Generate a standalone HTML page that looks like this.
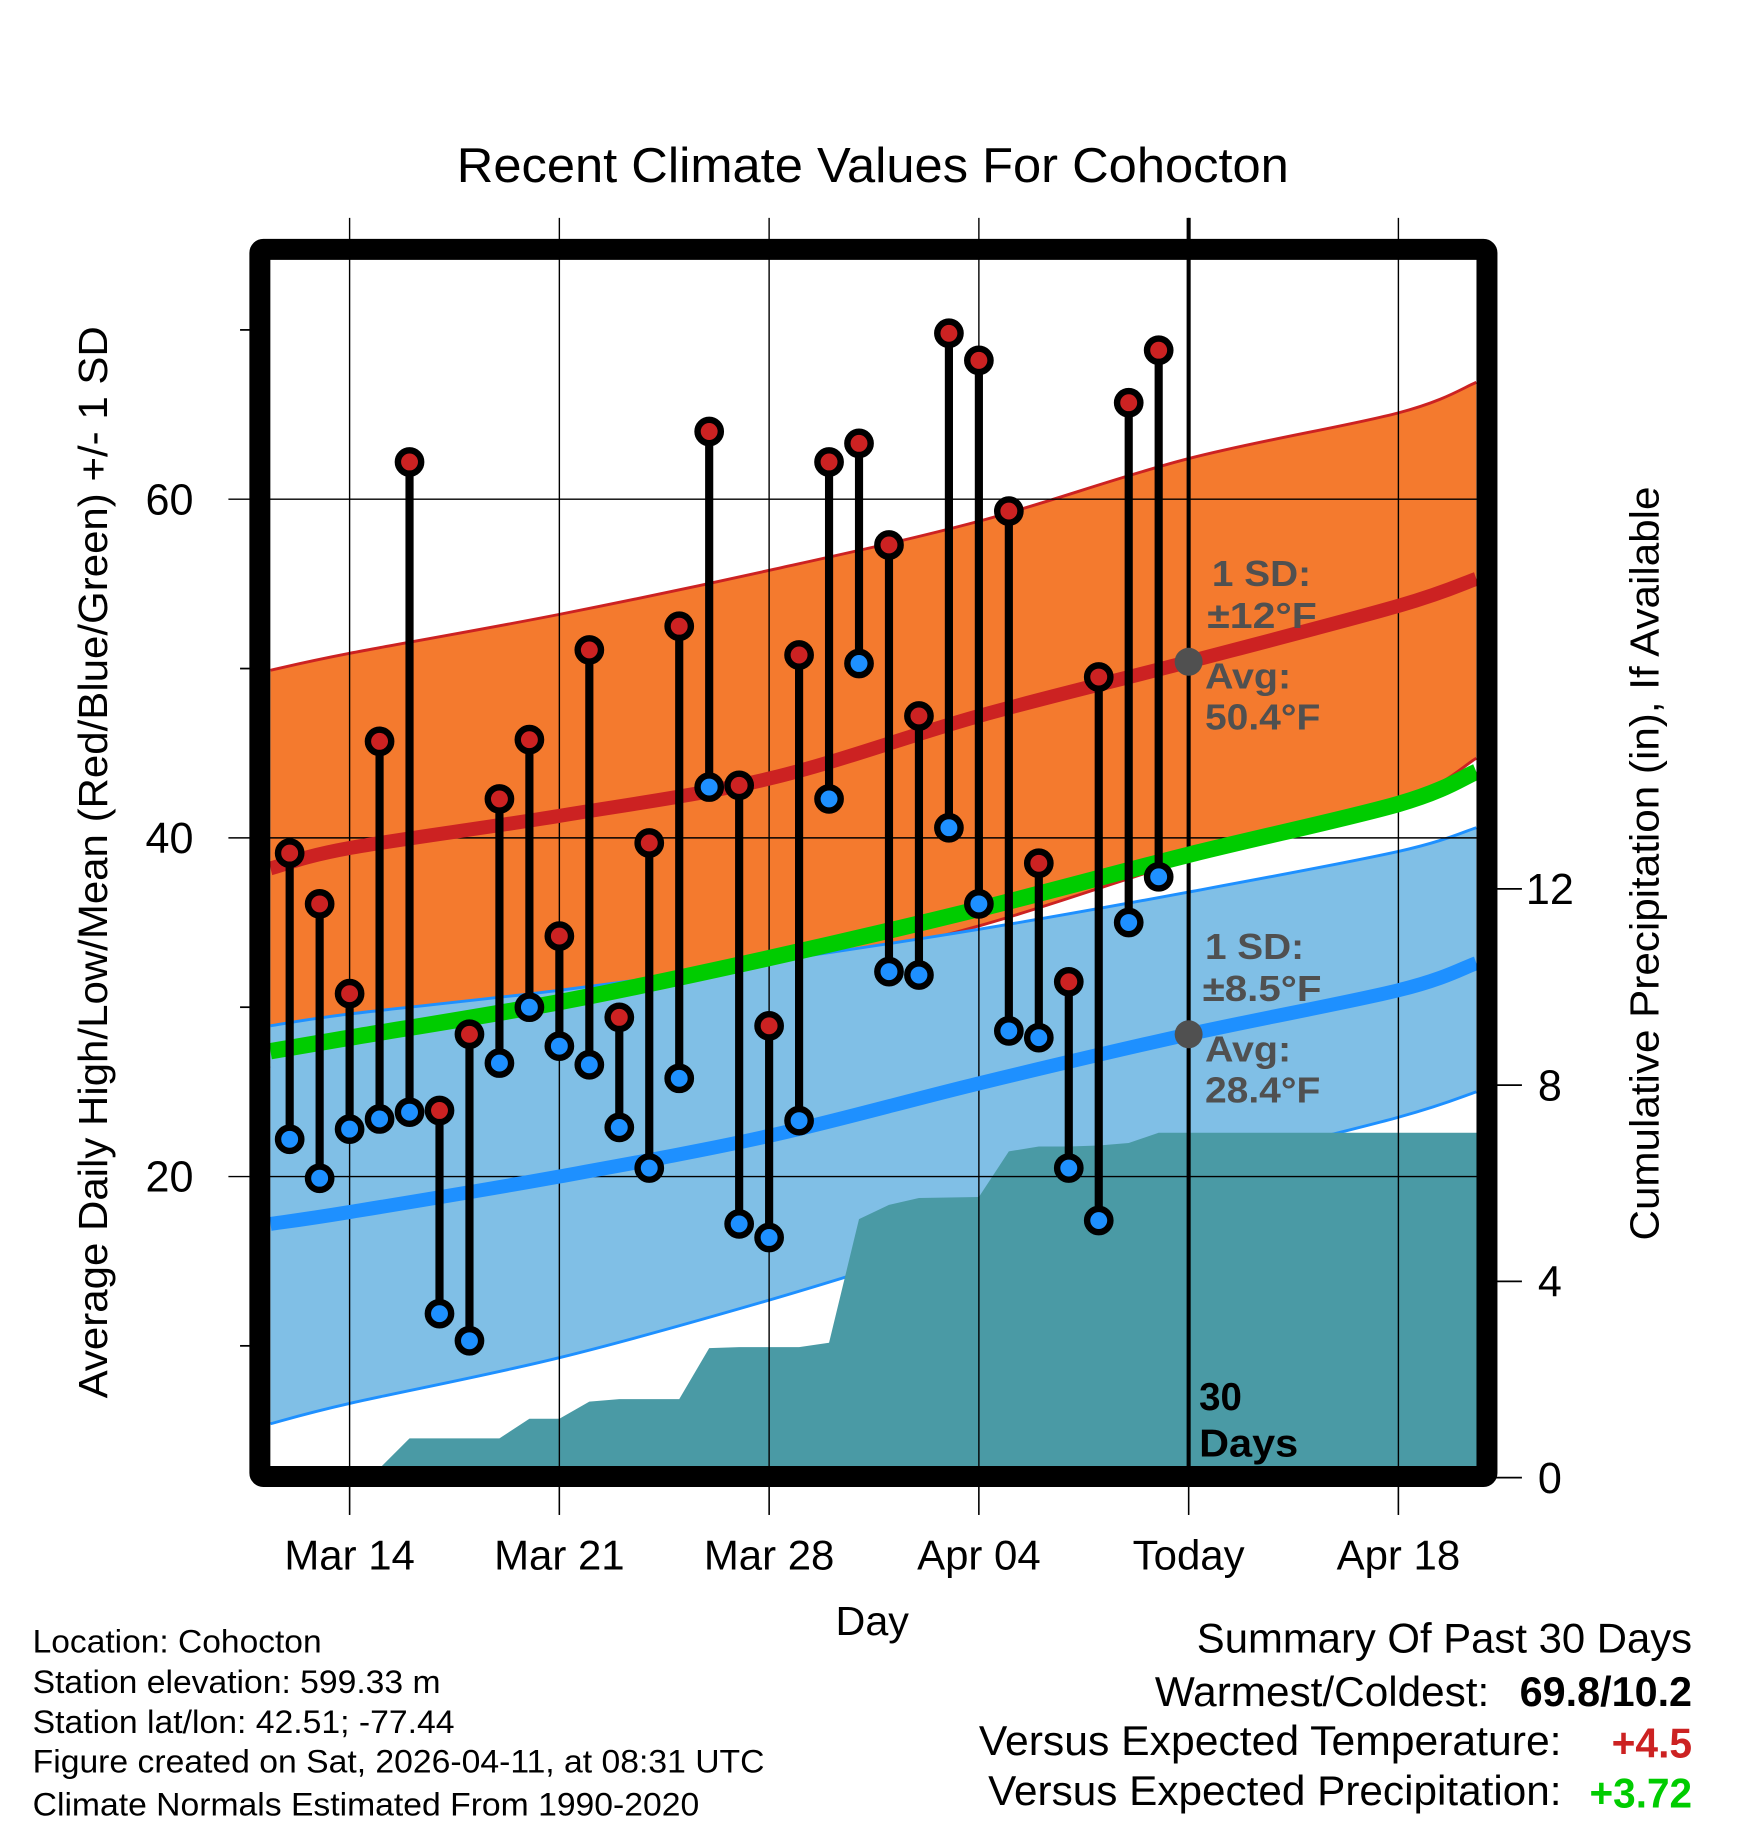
<!DOCTYPE html>
<html><head><meta charset="utf-8"><style>
html,body{margin:0;padding:0;background:#fff}
svg{display:block}
text{font-family:"Liberation Sans",sans-serif}
</style></head><body>
<svg id="chart" width="1748" height="1828" viewBox="0 0 1500 1568.65" xmlns="http://www.w3.org/2000/svg">
<text x="392" y="156" font-size="42" textLength="714" lengthAdjust="spacingAndGlyphs">Recent Climate Values For Cohocton</text>
<g id="bands"></g>
<g id="grid"></g>
<g id="lines"></g>
<g id="marks"></g>
<g id="axes"></g>
<g font-size="31" font-weight="bold" fill="#505050">
<text x="1040" y="503" textLength="85" lengthAdjust="spacingAndGlyphs">1 SD:</text><text x="1036" y="539" textLength="94" lengthAdjust="spacingAndGlyphs">±12°F</text>
<text x="1034" y="591" textLength="74" lengthAdjust="spacingAndGlyphs">Avg:</text><text x="1034" y="626" textLength="99" lengthAdjust="spacingAndGlyphs">50.4°F</text>
</g>
<g font-size="31" font-weight="bold" fill="#505050">
<text x="1034" y="823" textLength="85" lengthAdjust="spacingAndGlyphs">1 SD:</text><text x="1032" y="859" textLength="102" lengthAdjust="spacingAndGlyphs">±8.5°F</text>
<text x="1034" y="911" textLength="74" lengthAdjust="spacingAndGlyphs">Avg:</text><text x="1034" y="946" textLength="99" lengthAdjust="spacingAndGlyphs">28.4°F</text>
</g>
<g font-size="33" font-weight="bold" fill="#000">
<text x="1029" y="1210">30</text><text x="1029" y="1250" textLength="85" lengthAdjust="spacingAndGlyphs">Days</text>
</g>
<text transform="translate(92,740) rotate(-90)" font-size="35" text-anchor="middle" textLength="920" lengthAdjust="spacingAndGlyphs">Average Daily High/Low/Mean (Red/Blue/Green) +/- 1 SD</text>
<text transform="translate(1423,741) rotate(-90)" font-size="35" text-anchor="middle" textLength="647" lengthAdjust="spacingAndGlyphs">Cumulative Precipitation (in), If Available</text>
<text x="717" y="1403" font-size="35" textLength="63" lengthAdjust="spacingAndGlyphs">Day</text>
<g font-size="28">
<text x="28" y="1418" textLength="248" lengthAdjust="spacingAndGlyphs">Location: Cohocton</text>
<text x="28" y="1453" textLength="350" lengthAdjust="spacingAndGlyphs">Station elevation: 599.33 m</text>
<text x="28" y="1487" textLength="362" lengthAdjust="spacingAndGlyphs">Station lat/lon: 42.51; -77.44</text>
<text x="28" y="1521" textLength="628" lengthAdjust="spacingAndGlyphs">Figure created on Sat, 2026-04-11, at 08:31 UTC</text>
<text x="28" y="1558" textLength="572" lengthAdjust="spacingAndGlyphs">Climate Normals Estimated From 1990-2020</text>
</g>
<g font-size="36">
<text x="1027" y="1418" textLength="425" lengthAdjust="spacingAndGlyphs">Summary Of Past 30 Days</text>
<text x="991" y="1464" textLength="287" lengthAdjust="spacingAndGlyphs">Warmest/Coldest:</text>
<text x="1304" y="1464" font-weight="bold" textLength="148" lengthAdjust="spacingAndGlyphs">69.8/10.2</text>
<text x="840" y="1506" textLength="500" lengthAdjust="spacingAndGlyphs">Versus Expected Temperature:</text>
<text x="1383" y="1508" font-weight="bold" fill="#cc2222" textLength="69" lengthAdjust="spacingAndGlyphs">+4.5</text>
<text x="848" y="1549" textLength="492" lengthAdjust="spacingAndGlyphs">Versus Expected Precipitation:</text>
<text x="1364" y="1551" font-weight="bold" fill="#00cc00" textLength="88" lengthAdjust="spacingAndGlyphs">+3.72</text>
</g>
</svg>
<script>
// day index: 0 = Mar 14
const highs=[39.1,36.1,30.8,45.7,62.2,23.9,28.4,42.3,45.8,34.2,51.1,29.4,39.7,52.5,64.0,43.1,28.9,50.8,62.2,63.3,57.3,47.2,69.8,68.2,59.3,38.5,31.5,49.5,65.7,68.8];
const lows=[22.2,19.9,22.8,23.4,23.8,11.9,10.3,26.7,30.0,27.7,26.6,22.9,20.5,25.8,43.0,17.2,16.4,23.3,42.3,50.3,32.1,31.9,40.6,36.1,28.6,28.2,20.5,17.4,35.0,37.7];
const precip=[0,0.05,0.05,0.05,0.8,0.8,0.8,0.8,1.2,1.2,1.55,1.6,1.6,1.6,2.64,2.66,2.66,2.66,2.75,5.27,5.56,5.7,5.71,5.72,6.65,6.75,6.75,6.77,6.82,7.03];
const normDays=[-2.64,0,7,14,21,28,35,37.6];
const normHigh=[38.2,39.4,41.3,43.5,47.2,50.4,53.7,55.3];
const highUpper=[49.9,50.9,53.2,55.8,58.7,62.4,65.1,66.9];
const highLower=[26.4,27.5,29.6,31.8,34.8,38.7,42.1,44.7];
const normLow=[17.2,17.9,20.0,22.4,25.5,28.4,31.0,32.6];
const lowUpper=[28.9,29.6,31.0,32.7,34.6,36.8,39.2,40.6];
const lowLower=[5.4,6.6,9.3,12.7,16.5,20.3,23.5,25.0];
const normMean=[27.4,28.2,30.3,32.9,35.8,39.0,42.0,43.9];
const xTickDays=[0,7,14,21,28,35];
const xTickLabels=["Mar 14","Mar 21","Mar 28","Apr 04","Today","Apr 18"];
const yTicks=[20,40,60];
const yMinor=[10,30,50,70];
const pTicks=[0,4,8,12];
const firstDay=-2, todayDay=28;

const NS="http://www.w3.org/2000/svg";
const L=232,R=1268,T=223,B=1260;
const X=d=>300+d*180/7;
const Y=t=>719-(t-40)*14.53;
const P=p=>1268-p*42.1;
function mk(parent,tag,attrs){const e=document.createElementNS(NS,tag);for(const k in attrs)e.setAttribute(k,attrs[k]);parent.appendChild(e);return e;}
const bands=document.getElementById('bands'),grid=document.getElementById('grid'),lines=document.getElementById('lines'),marks=document.getElementById('marks'),axes=document.getElementById('axes');
function ptsArr(arr){return normDays.map((d,i)=>[X(d),Y(arr[i])]);}
function smooth(p,move){
  let s=(move?'M':'L')+p[0][0]+','+p[0][1];
  for(let i=0;i<p.length-1;i++){
    const p0=p[Math.max(0,i-1)],p1=p[i],p2=p[i+1],p3=p[Math.min(p.length-1,i+2)];
    const c1=[p1[0]+(p2[0]-p0[0])/6,p1[1]+(p2[1]-p0[1])/6];
    const c2=[p2[0]-(p3[0]-p1[0])/6,p2[1]-(p3[1]-p1[1])/6];
    s+=' C'+c1[0]+','+c1[1]+' '+c2[0]+','+c2[1]+' '+p2[0]+','+p2[1];
  }
  return s;
}
function band(up,lo,fill,stroke,name){
  const pu=ptsArr(up),pl=ptsArr(lo).reverse();
  const e=mk(bands,'path',{d:smooth(pu,true)+' '+smooth(pl,false)+' Z',fill:fill});
  
  
  const a=mk(bands,'path',{d:smooth(pu,true),fill:'none',stroke:stroke,'stroke-width':2.5});
  
  
  const b=mk(bands,'path',{d:smooth(ptsArr(lo),true),fill:'none',stroke:stroke,'stroke-width':2.5});
  
  
}
band(highUpper,highLower,'#f47a2e','#cc2222','high-sd-band');
band(lowUpper,lowLower,'#80bfe6','#1e90ff','low-sd-band');
// precipitation area
let pp=[L+','+B];
precip.forEach((v,i)=>{pp.push(X(firstDay+i)+','+Math.min(B,P(v)));});
pp.push(R+','+Math.min(B,P(precip[precip.length-1])));pp.push(R+','+B);
const area=mk(bands,'polygon',{points:pp.join(' '),fill:'#4a9aa5'});


// normal lines
const nh=mk(lines,'path',{d:smooth(ptsArr(normHigh),true),fill:'none',stroke:'#cc2222','stroke-width':12});


const nl=mk(lines,'path',{d:smooth(ptsArr(normLow),true),fill:'none',stroke:'#1e90ff','stroke-width':12});


const nm=mk(lines,'path',{d:smooth(ptsArr(normMean),true),fill:'none',stroke:'#00cc00','stroke-width':14});


// grid
xTickDays.forEach((d,i)=>{
  const g=mk(grid,'line',{x1:X(d),x2:X(d),y1:187,y2:1300,stroke:'#000','stroke-width':1.2});
  
  
  const t=mk(axes,'text',{x:X(d),y:1347,'font-size':36,'text-anchor':'middle'});t.textContent=xTickLabels[i];
  
  
});
yTicks.forEach(v=>{
  const g=mk(grid,'line',{x1:196,x2:R,y1:Y(v),y2:Y(v),stroke:'#000','stroke-width':1.2});
  
  
  const t=mk(axes,'text',{x:166,y:Y(v)+13,'font-size':37,'text-anchor':'end'});t.textContent=v;
  
  
});
yMinor.forEach(v=>{
  const g=mk(axes,'line',{x1:206,x2:216,y1:Y(v),y2:Y(v),stroke:'#000','stroke-width':1.5});
  
  
});
pTicks.forEach(v=>{
  const g=mk(axes,'line',{x1:1283,x2:1306,y1:P(v),y2:P(v),stroke:'#000','stroke-width':1.5});
  
  
  const t=mk(axes,'text',{x:1330,y:P(v)+13,'font-size':37,'text-anchor':'middle'});t.textContent=v;
  
  
});
// today line
const tl=mk(grid,'line',{x1:X(todayDay),x2:X(todayDay),y1:187,y2:B,stroke:'#000','stroke-width':3.5});


const d1=mk(marks,'circle',{cx:X(todayDay),cy:Y(normHigh[5]),r:12,fill:'#505050'});


const d2=mk(marks,'circle',{cx:X(todayDay),cy:Y(normLow[5]),r:12,fill:'#505050'});


// daily stems
highs.forEach((h,i)=>{
  const x=X(firstDay+i);
  const s=mk(marks,'line',{x1:x,x2:x,y1:Y(h),y2:Y(lows[i]),stroke:'#000','stroke-width':7});
  
  
  const c1=mk(marks,'circle',{cx:x,cy:Y(h),r:10,fill:'#cc2222',stroke:'#000','stroke-width':5.5});
  
  
  const c2=mk(marks,'circle',{cx:x,cy:Y(lows[i]),r:10,fill:'#1e90ff',stroke:'#000','stroke-width':5.5});
  
  
});
// masks outside plot then frame
const m1=mk(axes,'rect',{x:1276,y:180,width:60,height:1100,fill:'#fff'});


const m2=mk(axes,'rect',{x:190,y:1267,width:1100,height:8,fill:'#fff'});


axes.insertBefore(m1,axes.firstChild);axes.insertBefore(m2,axes.firstChild);
xTickDays.forEach(d=>{
  const g=mk(axes,'line',{x1:X(d),x2:X(d),y1:1270,y2:1300,stroke:'#000','stroke-width':1.2});
  
  
});
const fr=mk(axes,'rect',{x:223,y:214,width:1053,height:1053,fill:'none',stroke:'#000','stroke-width':18,rx:3});


</script>
</body></html>
